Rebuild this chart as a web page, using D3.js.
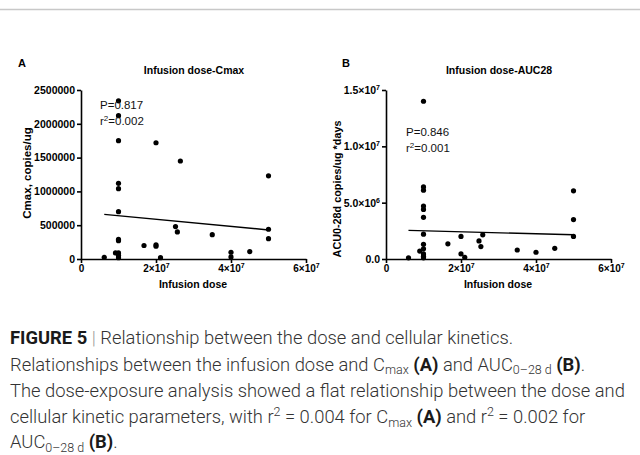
<!DOCTYPE html>
<html>
<head>
<meta charset="utf-8">
<script src="https://cdn.jsdelivr.net/npm/d3@7"></script>
<style>
  body { margin: 0; background: #fff; }
  svg { display: block; }
  .tick text { font-family: "Liberation Sans", Arial, sans-serif; font-weight: bold; }
</style>
</head>
<body>
<script>
/* Panel A: infusion dose vs Cmax */
var doseA = [1.0e7, 1.0e7, 1.0e7, 1.0e7, 1.0e7, 1.0e7, 1.0e7, 1.0e7, 1.0e7, 1.0e7, 1.0e7,
  0.92e7, 0.62e7, 1.68e7, 2.0e7, 2.0e7, 2.0e7, 2.12e7, 2.65e7, 2.52e7, 2.57e7,
  3.5e7, 4.0e7, 4.0e7, 4.5e7, 5.0e7, 5.0e7, 5.0e7];
var cmax = [2340000, 2120000, 1750000, 1120000, 1040000, 700000, 290000, 270000, 90000, 50000, 20000,
  90000, 25000, 200000, 1720000, 210000, 190000, 20000, 1450000, 480000, 400000,
  360000, 100000, 30000, 110000, 1230000, 440000, 300000];
var fitXA = [0.62e7, 5.0e7];
var fitYA = [660000, 430000];

/* Panel B: infusion dose vs AUC0-28d */
var doseB = [1.0e7, 1.0e7, 1.0e7, 1.0e7, 1.0e7, 1.0e7, 1.0e7, 1.0e7, 1.0e7, 1.0e7, 1.0e7, 1.0e7,
  0.9e7, 0.6e7, 1.65e7, 2.0e7, 2.0e7, 2.1e7, 2.48e7, 2.53e7, 2.58e7,
  3.5e7, 4.0e7, 4.5e7, 5.0e7, 5.0e7, 5.0e7];
var auc = [14000000, 6400000, 6100000, 4700000, 4400000, 3700000, 2200000, 1300000, 900000, 450000, 250000, 100000,
  700000, 100000, 1350000, 2000000, 450000, 150000, 1600000, 1100000, 2150000,
  800000, 600000, 950000, 6050000, 3500000, 2000000];
var fitXB = [0.6e7, 5.0e7];
var fitYB = [2540000, 2150000];

var xTicks = [0, 2e7, 4e7, 6e7];
var yTicksA = [0, 500000, 1000000, 1500000, 2000000, 2500000];
var yTicksB = [0, 5e6, 1e7, 1.5e7];

var font = '"Liberation Sans", Arial, sans-serif';

var svg = d3.select("body").append("svg")
    .attr("width", 640)
    .attr("height", 455);

/* grey rule at the top */
svg.append("line")
    .attr("x1", 0).attr("x2", 640)
    .attr("y1", 9.5).attr("y2", 9.5)
    .attr("stroke", "#c8c8c8").attr("stroke-width", 1.5);

/* write a power of ten label like 2x10^7 into a text node */
function sciLabel(sel, mant, exp) {
  sel.text(null);
  sel.append("tspan").text(mant + "\u00d710");
  sel.append("tspan").attr("dy", -4).attr("font-size", "7px").text(exp);
}

function panel(o) {
  var x = d3.scaleLinear().domain([0, 6e7]).range([o.left, o.left + 225]);
  var y = d3.scaleLinear().domain([0, o.ymax]).range([259, 90]);
  var g = svg.append("g");

  var xAxis = g.append("g")
      .attr("transform", "translate(0,259)")
      .call(d3.axisBottom(x).tickValues(xTicks).tickSize(4).tickPadding(2).tickSizeOuter(0));
  xAxis.selectAll(".tick text")
      .attr("font-size", "10px")
      .each(function(d) {
        if (d === 0) d3.select(this).text("0");
        else sciLabel(d3.select(this), d / 1e7, 7);
      });

  var yAxis = g.append("g")
      .attr("transform", "translate(" + o.left + ",0)")
      .call(d3.axisLeft(y).tickValues(o.yTicks).tickSize(4).tickPadding(2).tickSizeOuter(0));
  yAxis.selectAll(".tick text")
      .attr("font-size", "10.5px")
      .each(function(d) { o.yFormat(d3.select(this), d); });

  g.selectAll(".domain, .tick line")
      .attr("stroke", "#000").attr("stroke-width", 1.6);
  g.selectAll(".tick text").attr("fill", "#000");

  g.selectAll("circle")
      .data(o.xs)
    .enter().append("circle")
      .attr("cx", function(d) { return x(d); })
      .attr("cy", function(d, i) { return y(o.ys[i]); })
      .attr("r", 2.6)
      .attr("fill", "#000");

  g.append("line")
      .attr("x1", x(o.fitX[0])).attr("y1", y(o.fitY[0]))
      .attr("x2", x(o.fitX[1])).attr("y2", y(o.fitY[1]))
      .attr("stroke", "#000").attr("stroke-width", 1.4);

  g.append("text")
      .attr("x", o.left - 63 + o.letterDx).attr("y", 67)
      .attr("font-family", font).attr("font-weight", "bold").attr("font-size", "11px")
      .text(o.letter);

  g.append("text")
      .attr("x", o.titleX).attr("y", 74)
      .attr("text-anchor", "middle")
      .attr("font-family", font).attr("font-weight", "bold").attr("font-size", "10.5px")
      .text(o.title);

  g.append("text")
      .attr("x", o.left + 112).attr("y", 288)
      .attr("text-anchor", "middle")
      .attr("font-family", font).attr("font-weight", "bold").attr("font-size", "10.5px")
      .text("Infusion dose");

  g.append("text")
      .attr("transform", "translate(" + o.ylabX + "," + o.ylabY + ") rotate(-90)")
      .attr("text-anchor", "middle")
      .attr("font-family", font).attr("font-weight", "bold").attr("font-size", o.ylabSize)
      .text(o.ylabel);

  var ann = g.append("g")
      .attr("font-family", font).attr("font-size", "11.5px").attr("fill", "#111");
  ann.append("text").attr("x", o.annX).attr("y", o.annY).text(o.pText);
  var r2 = ann.append("text").attr("x", o.annX).attr("y", o.annY + 16);
  r2.append("tspan").text("r");
  r2.append("tspan").attr("dy", -4).attr("font-size", "8px").text("2");
  r2.append("tspan").attr("dy", 4).text("=" + o.r2Text);
}

panel({
  left: 81, ymax: 2500000, yTicks: yTicksA,
  yFormat: function(s, d) { s.text(d3.format("d")(d)); },
  xs: doseA, ys: cmax, fitX: fitXA, fitY: fitYA,
  letter: "A", letterDx: 0, title: "Infusion dose-Cmax", titleX: 194,
  ylabel: "Cmax, copies/ug", ylabX: 30.5, ylabY: 173, ylabSize: "11.5px",
  annX: 100, annY: 109, pText: "P=0.817", r2Text: "0.002"
});

panel({
  left: 386, ymax: 1.5e7, yTicks: yTicksB,
  yFormat: function(s, d) {
    if (d === 0) s.text("0.0");
    else if (d >= 1e7) sciLabel(s, d3.format(".1f")(d / 1e7), 7);
    else sciLabel(s, d3.format(".1f")(d / 1e6), 6);
  },
  xs: doseB, ys: auc, fitX: fitXB, fitY: fitYB,
  letter: "B", letterDx: 19, title: "Infusion dose-AUC28", titleX: 499,
  ylabel: "ACU0-28d copies/ug *days", ylabX: 341, ylabY: 189, ylabSize: "10.8px",
  annX: 406, annY: 136, pText: "P=0.846", r2Text: "0.001"
});

/* caption */
var capFont = 'Roboto, "Liberation Sans", Arial, sans-serif';
var cap = svg.append("g")
    .attr("font-family", capFont)
    .attr("font-weight", 300)
    .attr("fill", "#333");

var capLines = [
  [["b", "FIGURE 5"], ["bar", " | "], ["t", "Relationship between the dose and cellular kinetics."]],
  [["t", "Relationships between the infusion dose and C"], ["sub", "max"], ["t", " "], ["b", "(A)"],
   ["t", " and AUC"], ["sub", "0\u201328 d"], ["t", " "], ["b", "(B)"], ["t", "."]],
  [["t", "The dose-exposure analysis showed a flat relationship between the dose and"]],
  [["t", "cellular kinetic parameters, with r"], ["sup", "2"], ["t", " = 0.004 for C"], ["sub", "max"],
   ["t", " "], ["b", "(A)"], ["t", " and r"], ["sup", "2"], ["t", " = 0.002 for"]],
  [["t", "AUC"], ["sub", "0\u201328 d"], ["t", " "], ["b", "(B)"], ["t", "."]]
];
var capBase = [343.5, 370.5, 397, 423, 448];

/* size the caption so the third line fills its width, as in the figure */
var probe = cap.append("text").attr("font-size", "20px").text(capLines[2][0][1]);
var capSize = 20 * 615 / probe.node().getComputedTextLength();
probe.remove();

capLines.forEach(function(parts, i) {
  var t = cap.append("text")
      .attr("x", 10).attr("y", capBase[i])
      .attr("font-size", capSize + "px");
  var shift = 0;
  parts.forEach(function(p) {
    var s = t.append("tspan").text(p[1]);
    var want = p[0] === "sub" ? 3.5 : p[0] === "sup" ? -7 : 0;
    if (want !== shift) { s.attr("dy", want - shift); shift = want; }
    if (p[0] === "sub" || p[0] === "sup") s.attr("font-size", (capSize * 0.68) + "px");
    if (p[0] === "b") s.attr("font-weight", "bold").attr("fill", "#1a1a1a");
    if (p[0] === "bar") s.attr("fill", "#999");
  });
});
</script>
</body>
</html>
